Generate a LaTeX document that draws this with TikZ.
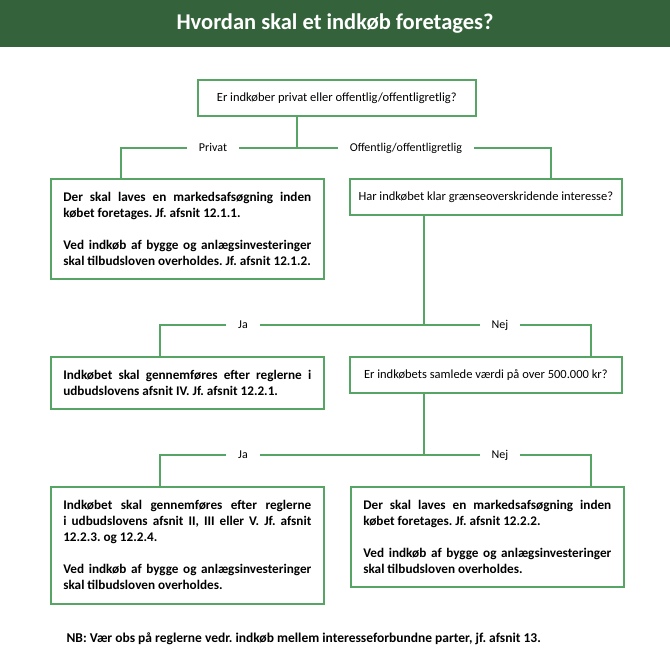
\documentclass[tikz,border=0pt]{standalone}
\usepackage{fontspec}
\setmainfont{Carlito}
\definecolor{bannergreen}{RGB}{52,99,59}
\definecolor{linegreen}{RGB}{86,165,101}
\hyphenpenalty=10000
\exhyphenpenalty=10000
\frenchspacing
\begin{document}
\begin{tikzpicture}[x=1pt,y=-1pt,
    qbox/.style={draw=linegreen,line width=1.6pt,fill=white,anchor=north west,
        minimum height=36pt,inner xsep=0pt,align=center,
        font=\fontsize{12.5}{15}\selectfont},
    rbox/.style={draw=linegreen,line width=1.6pt,fill=white,anchor=north west,
        text width=248pt,inner xsep=12.5pt,inner ysep=0pt,align=justify,
        font=\bfseries\fontsize{13.2}{16}\selectfont},
    lbl/.style={inner xsep=12pt,inner ysep=0pt,text height=8pt,text depth=2pt,
        font=\fontsize{12}{13}\selectfont},
    link/.style={draw=linegreen,line width=1.6pt}]
\useasboundingbox (0,0) rectangle (670,656);
\fill[bannergreen] (0,0) rectangle (670,47);
\node[text=white,font=\bfseries\fontsize{22.5}{26}\selectfont] (title) at (335,24) {Hvordan skal et indkøb foretages?};

\node[qbox,minimum width=278pt] (q1) at (197,79) {Er indkøber privat eller offentlig/offentligretlig?};
\node[qbox,minimum width=272pt] (q2) at (349,178) {Har indkøbet klar grænseoverskridende interesse?};
\node[qbox,minimum width=272pt] (q3) at (349,356) {Er indkøbets samlede værdi på over 500.000 kr?};

\node[rbox,minimum height=100pt] (privbox) at (50,178) {Der skal laves en markedsafsøgning inden\linebreak købet foretages. Jf.~afsnit 12.1.1.\\[16pt]
Ved indkøb af bygge og anlægsinvesteringer\linebreak skal tilbudsloven overholdes. Jf.~afsnit~12.1.2.};
\node[rbox,minimum height=52pt] (udbIV) at (50,356) {Indkøbet skal gennemføres efter reglerne i\linebreak udbudslovens afsnit IV. Jf.~afsnit 12.2.1.};
\node[rbox,minimum height=117pt] (udbII) at (50,486) {Indkøbet skal gennemføres efter reglerne\linebreak i udbudslovens afsnit II, III eller V. Jf.~afsnit\linebreak 12.2.3. og 12.2.4.\\[16pt]
Ved indkøb af bygge og anlægsinvesteringer\linebreak skal tilbudsloven overholdes.};
\node[rbox,minimum height=100pt] (markbox) at (350,486) {Der skal laves en markedsafsøgning inden\linebreak købet foretages. Jf.~afsnit 12.2.2.\\[16pt]
Ved indkøb af bygge og anlægsinvesteringer\linebreak skal tilbudsloven overholdes.};

\coordinate (j1) at (297,148);
\coordinate (j2) at (424,325);
\coordinate (j3) at (424,455);
\node[lbl] (privat) at (213,148) {Privat};
\node[lbl] (offentlig) at (406,148) {Offentlig/offentligretlig};
\node[lbl] (ja1) at (243,325) {Ja};
\node[lbl] (nej1) at (500,325) {Nej};
\node[lbl] (ja2) at (243,455) {Ja};
\node[lbl] (nej2) at (500,455) {Nej};

\draw[link] (q1.south -| j1) -- (j1) -- (privat.east);
\draw[link] (privat.west) -| (privbox.north -| 121,0);
\draw[link] (j1) -- (offentlig.west);
\draw[link] (offentlig.east) -| (q2.north -| 551,0);
\draw[link] (q2.south -| j2) -- (j2) -- (ja1.east);
\draw[link] (ja1.west) -| (udbIV.north -| 160,0);
\draw[link] (j2) -- (nej1.west);
\draw[link] (nej1.east) -| (q3.north -| 591,0);
\draw[link] (q3.south -| j3) -- (j3) -- (ja2.east);
\draw[link] (ja2.west) -| (udbII.north -| 160,0);
\draw[link] (j3) -- (nej2.west);
\draw[link] (nej2.east) -| (markbox.north -| 591,0);

\node[anchor=west,font=\bfseries\fontsize{13.5}{16}\selectfont] (nb) at (63,639) {NB: Vær obs på reglerne vedr. indkøb mellem interesseforbundne parter, jf. afsnit 13.};
\end{tikzpicture}
\end{document}
